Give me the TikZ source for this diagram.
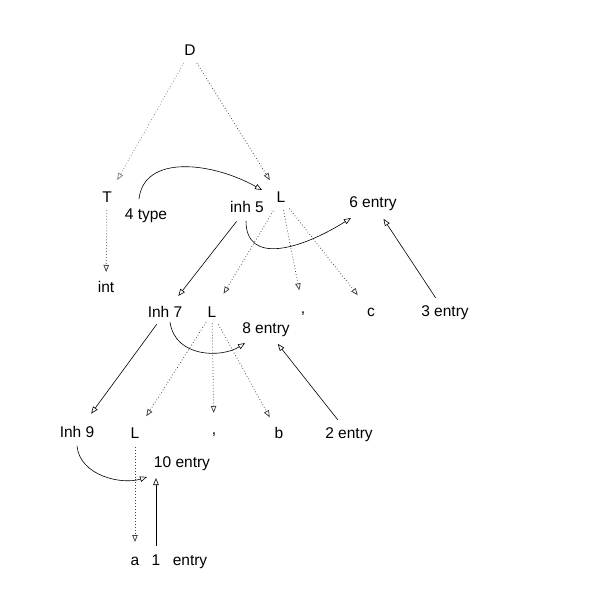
\documentclass[tikz,border=0pt]{standalone}
\usepackage{fontspec}
\setmainfont{Liberation Sans}
\usetikzlibrary{arrows.meta,calc}
\begin{document}
\begin{tikzpicture}[x=1pt,y=-1pt,
  lbl/.style={font=\fontsize{15.5}{18}\selectfont, inner sep=0pt, text height=11.5pt, text depth=3.5pt, anchor=center},
  tip/.style={-{Triangle[open,length=7pt,width=5.5pt]}},
  dep/.style={tip, line width=0.6pt, black},
  tree/.style={tip, line width=0.75pt, black!75, dash pattern=on 0.75pt off 2.2pt},
  lighttree/.style={tree, black!50}]
\useasboundingbox (0,0) rectangle (599,610);
% nodes
\node[lbl] (D) at (190,52) {D};
\node[lbl] (T) at (107,198) {T};
\node[lbl] (ftype) at (146,215) {4 type};
\node[lbl] (inhf) at (247,208) {inh 5};
\node[lbl] (Lone) at (281,198) {L};
\node[lbl] (sixe) at (373,203) {6 entry};
\node[lbl] (int) at (106,288) {int};
\node[lbl] (inhs) at (165,313) {Inh 7};
\node[lbl] (Ltwo) at (212,313) {L};
\node[lbl] (commaone) at (303,309) {,};
\node[lbl] (c) at (371,312) {c};
\node[lbl] (three) at (445,312) {3 entry};
\node[lbl] (eight) at (266,329) {8 entry};
\node[lbl] (inhn) at (77,433) {Inh 9};
\node[lbl] (Lthree) at (135,434) {L};
\node[lbl] (commatwo) at (214,430) {,};
\node[lbl] (b) at (279,434) {b};
\node[lbl] (two) at (349,434) {2 entry};
\node[lbl] (ten) at (182,463) {10 entry};
\node[lbl] (a) at (135,561) {a};
\node[lbl] (one) at (156,561) {1};
\node[lbl] (entry) at (190,561) {entry};
% parse tree edges (dotted)
\draw[lighttree, shorten <=12.5pt, shorten >=20.6pt] (D.center) -- (T.center);
\draw[tree, shorten <=13pt, shorten >=21pt] (D.center) -- (Lone.center);
\draw[tree, shorten <=12pt, shorten >=16pt] (T.center) -- (int.center);
\draw[tree, shorten <=15pt, shorten >=22.5pt] (Lone.center) -- (Ltwo.center);
\draw[tree, shorten <=12.6pt, shorten >=19pt] (Lone.center) -- (commaone.center);
\draw[tree, shorten <=13.5pt, shorten >=21.4pt] (Lone.center) -- (c.center);
\draw[tree, shorten <=11pt, shorten >=21pt] (Ltwo.center) -- (Lthree.center);
\draw[tree, shorten <=10pt, shorten >=17pt] (Ltwo.center) -- (commatwo.center);
\draw[tree, shorten <=13pt, shorten >=19pt] (Ltwo.center) -- (b.center);
\draw[tree, shorten <=13pt, shorten >=19pt] (Lthree.center) -- (a.center);
% dependency edges (solid)
\draw[dep] ($(ftype)+(-7,-16)$) .. controls +(5,-45) and +(-50,-28) .. ($(Lone)+(-19,-8)$);
\draw[dep] ($(inhf)+(-1,13)$) .. controls +(0,44) and +(-51,32) .. ($(sixe)+(-22,15)$);
\draw[dep] ($(inhs)+(5,9)$) .. controls +(5,36) and +(-23,15) .. ($(eight)+(-21,14)$);
\draw[dep] ($(inhn)+(0,13)$) .. controls +(3,30) and +(-25,8) .. ($(ten)+(-35,14)$);
\draw[dep, shorten <=17pt, shorten >=21.6pt] (inhf.center) -- (inhs.center);
\draw[dep, shorten <=17pt, shorten >=19pt] (three.center) -- (sixe.center);
\draw[dep, shorten <=14pt, shorten >=24pt] (inhs.center) -- (inhn.center);
\draw[dep, shorten <=18pt, shorten >=19pt] (two.center) -- (eight.center);
\draw[dep, shorten <=15pt, shorten >=15pt] (one.center) -- (one |- ten);
\end{tikzpicture}
\end{document}
